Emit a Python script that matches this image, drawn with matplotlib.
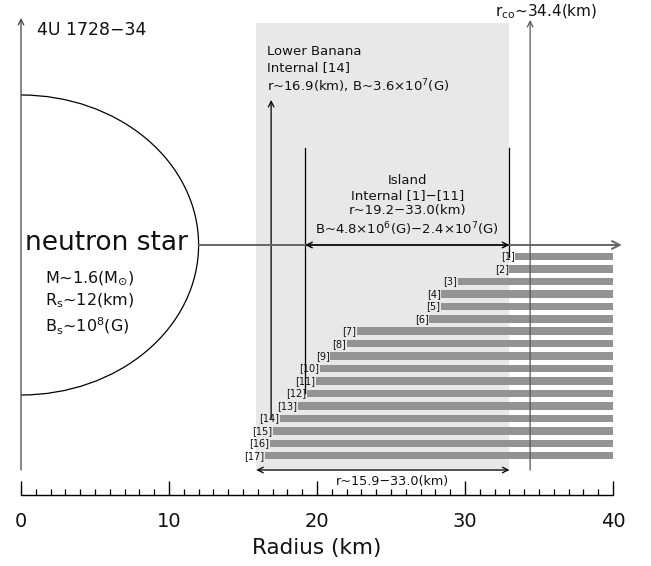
import matplotlib
matplotlib.use("Agg")
import matplotlib.pyplot as plt
from matplotlib.patches import Arc, Rectangle
from matplotlib.ticker import MultipleLocator

# -----------------------------
# Data (radii in km)
# -----------------------------
bar_labels = ["[1]", "[2]", "[3]", "[4]", "[5]", "[6]", "[7]", "[8]", "[9]",
              "[10]", "[11]", "[12]", "[13]", "[14]", "[15]", "[16]", "[17]"]
bar_start = [33.4, 33.0, 29.5, 28.4, 28.4, 27.6, 22.7, 22.0, 20.9,
             20.2, 19.9, 19.3, 18.7, 17.5, 17.0, 16.8, 16.5]
bar_end = 40.0

r_star = 12.0
r_banana = 16.9
r_island = [19.2, 33.0]
r_range = [15.9, 33.0]
r_co = 34.4

tick_major = [0, 10, 20, 30, 40]

# -----------------------------
# Layout (vertical positions in pixels from top)
# -----------------------------
W, H = 651, 566
X0, X1 = 21, 613                    # pixel of 0 km and 40 km
S = (X1 - X0) / 40.0
ROW0, ROWSTEP, ROWH = 256.5, 12.45, 7.5
Y_MID = 245
Y_BOT = 470

TXT = "#111111"
BAR = "#939393"
SHADE = "#e8e8e8"

fig = plt.figure(figsize=(W / 100, H / 100), dpi=100)
ax = fig.add_axes([0, 0, 1, 1])
ax.set_xlim(-X0 / S, (W - X0) / S)
ax.set_ylim(H, 0)
ax.axis("off")

def row_y(i):
    return ROW0 + ROWSTEP * i

# shaded zone
ax.add_patch(Rectangle((r_range[0], 23), r_range[1] - r_range[0], Y_BOT + 1 - 23,
                       facecolor=SHADE, edgecolor="none", zorder=0))

# bars
ys = [row_y(i) for i in range(len(bar_start))]
widths = [bar_end - s for s in bar_start]
ax.barh(ys, widths, left=bar_start, height=ROWH, color=BAR, zorder=3)
for y, s, lab in zip(ys, bar_start, bar_labels):
    ax.text(s - 0.05, y, lab, ha="right", va="center", fontsize=7,
            color=TXT, zorder=4)

# neutron star half ellipse
ax.add_patch(Arc((0, Y_MID), 2 * r_star, 300, theta1=-90, theta2=90,
                 color="black", lw=0.9, zorder=2))

# vertical axis arrow and r_co arrow (r_co line drawn over the bars)
arrow = dict(arrowstyle="->", lw=0.9, shrinkA=0, shrinkB=0)
ax.annotate("", xy=(0, 18), xytext=(0, Y_BOT),
            arrowprops=dict(arrow, color="#444444"), zorder=2)
ax.annotate("", xy=(r_co, 20), xytext=(r_co, Y_BOT),
            arrowprops=dict(arrow, color="#555555"), zorder=5)

# lower banana arrow
ax.annotate("", xy=(r_banana, 100), xytext=(r_banana, row_y(13)),
            arrowprops=dict(arrow, color="black"), zorder=2)

# island boundaries
ax.plot([r_island[0], r_island[0]], [148, row_y(11)], color="black", lw=0.9, zorder=2)
ax.plot([r_island[1], r_island[1]], [148, row_y(0)], color="black", lw=0.9, zorder=2)

# horizontal radius arrow
ax.annotate("", xy=(40.6, Y_MID), xytext=(r_star, Y_MID),
            arrowprops=dict(arrowstyle="->", lw=1.4, color="#666666",
                            shrinkA=0, shrinkB=0, mutation_scale=14), zorder=2)
ax.annotate("", xy=(r_island[1], Y_MID), xytext=(r_island[0], Y_MID),
            arrowprops=dict(arrowstyle="<->", lw=1.0, color="black",
                            shrinkA=0, shrinkB=0), zorder=2)

# bottom range arrow
ax.annotate("", xy=(r_range[1], Y_BOT), xytext=(r_range[0], Y_BOT),
            arrowprops=dict(arrowstyle="<->", lw=0.9, color="black",
                            shrinkA=0, shrinkB=0), zorder=2)
ax.text(25.1, 481, "r~15.9\u221233.0(km)", ha="center", va="center",
        fontsize=9.2, color=TXT)

# texts
ax.text(1.08, 30, "4U 1728\u221234", ha="left", va="center", fontsize=12.5, color=TXT)
ax.text(32.0, 12, r"r$_{\rm co}$~34.4(km)", ha="left", va="center",
        fontsize=11, color=TXT)
ax.text(16.6, 70, "Lower Banana\nInternal [14]\nr~16.9(km), B~3.6\u00d710$^{7}$(G)",
        ha="left", va="center", fontsize=9.5, color=TXT, linespacing=1.25)
ax.text(26.1, 206, "Island\nInternal [1]\u2212[11]\nr~19.2\u221233.0(km)\n"
        "B~4.8\u00d710$^{6}$(G)\u22122.4\u00d710$^{7}$(G)",
        ha="center", va="center", fontsize=9.5, color=TXT, linespacing=1.2)
ax.text(0.25, 243, "neutron star", ha="left", va="center", fontsize=19, color=TXT)
ax.text(1.6, 303, "M~1.6(M$_{\\odot}$)\nR$_{\\rm s}$~12(km)\nB$_{\\rm s}$~10$^{8}$(G)",
        ha="left", va="center", fontsize=11.5, color=TXT, linespacing=1.35)

# bottom axis
axx = fig.add_axes([X0 / W, 1 - 495 / H, (X1 - X0) / W, 0.0001])
axx.set_xlim(0, 40)
axx.set_yticks([])
for side in ["top", "left", "right"]:
    axx.spines[side].set_visible(False)
axx.spines["bottom"].set_linewidth(1.0)
axx.set_xticks(tick_major)
axx.xaxis.set_minor_locator(MultipleLocator(1))
axx.tick_params(axis="x", which="major", direction="in", length=10, width=1.0,
                labelsize=14, pad=12, labelcolor=TXT)
axx.tick_params(axis="x", which="minor", direction="in", length=4, width=0.9)
axx.set_xlabel("Radius (km)", fontsize=15.5, labelpad=5, color=TXT)
axx.patch.set_visible(False)

fig.savefig("out.png", dpi=100)
